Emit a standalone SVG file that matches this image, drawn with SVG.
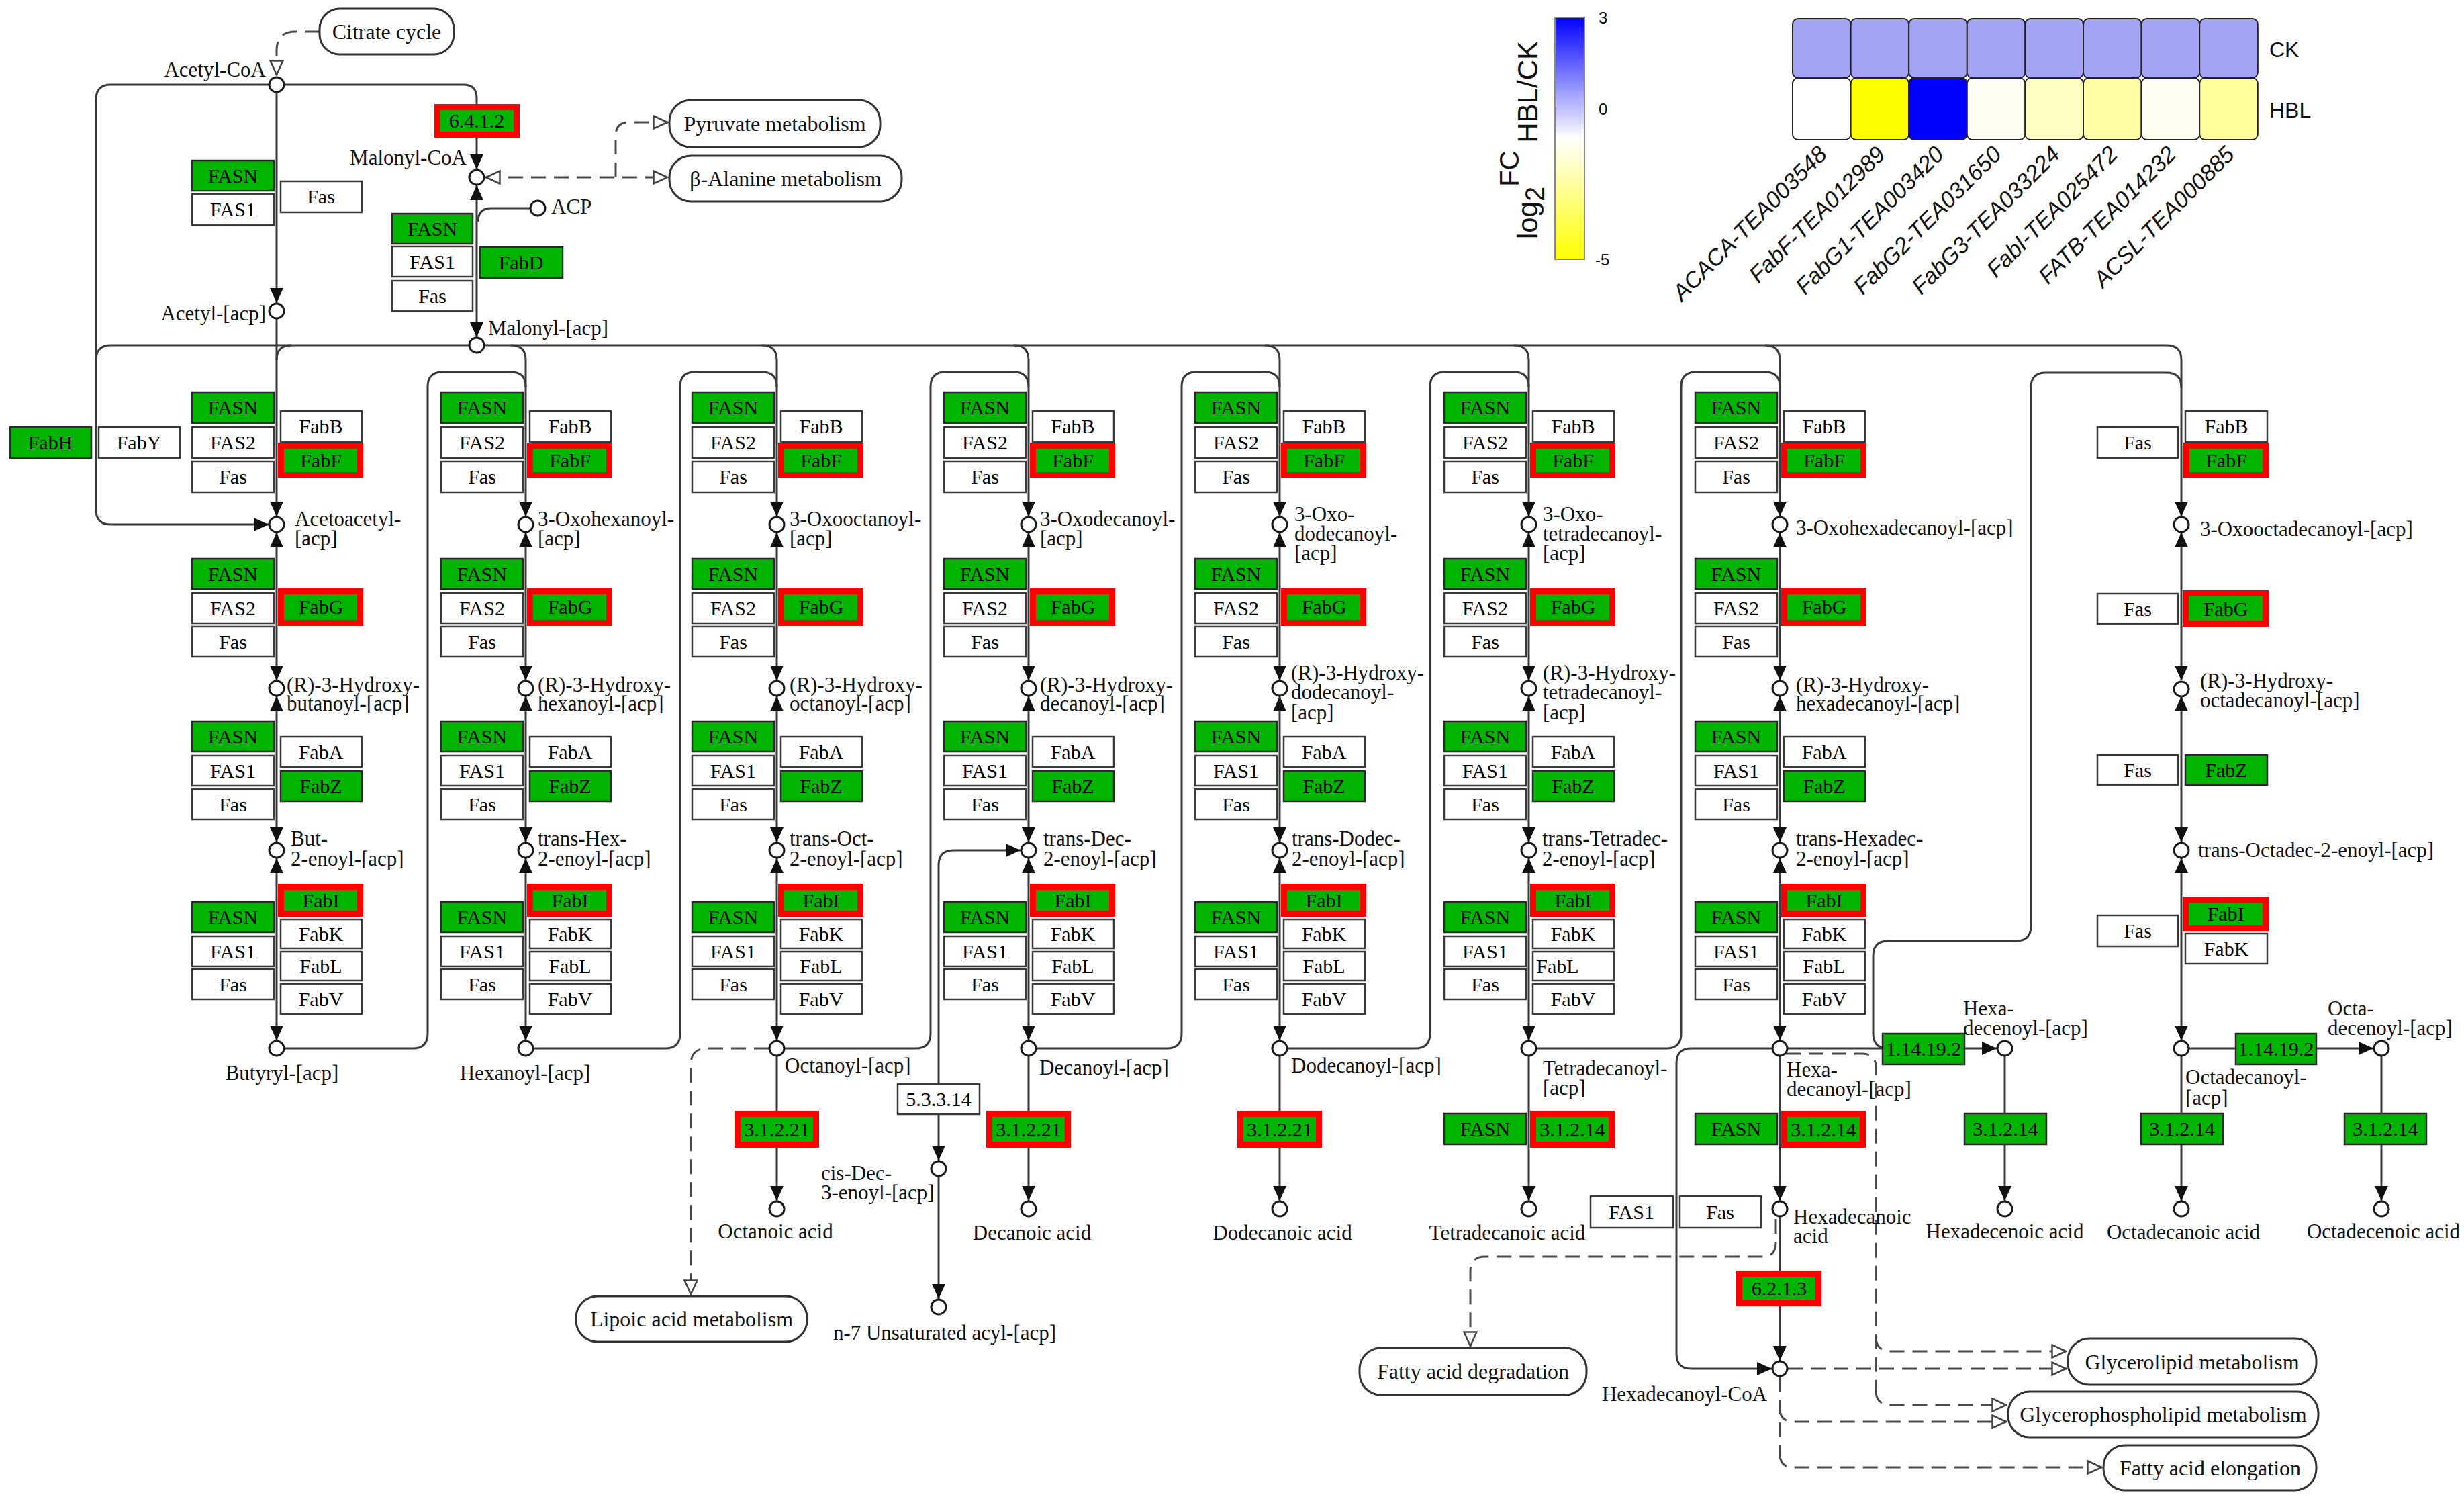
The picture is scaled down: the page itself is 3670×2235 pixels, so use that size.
<svg xmlns="http://www.w3.org/2000/svg" width="3670" height="2235" viewBox="0 0 3670 2235">
<defs>
<style>
.w{fill:#fff;stroke:#3a3a3a;stroke-width:2.5}
.g{fill:#00b400;stroke:#2a2a2a;stroke-width:2.5}
.r{fill:#00b400;stroke:#ff0000;stroke-width:9}
.t{font-family:"Liberation Serif",serif;font-size:30px;text-anchor:middle;fill:#000}
.l{font-family:"Liberation Serif",serif;font-size:31px;fill:#111}
.lm{font-family:"Liberation Serif",serif;font-size:31px;fill:#111;text-anchor:middle}
.le{font-family:"Liberation Serif",serif;font-size:31px;fill:#111;text-anchor:end}
.m{fill:#fff;stroke:#333;stroke-width:3}
.mt{font-family:"Liberation Serif",serif;font-size:32px;text-anchor:middle;fill:#111}
.n{fill:#fff;stroke:#1a1a1a;stroke-width:3}
.s{fill:none;stroke:#3a3a3a;stroke-width:3}
.sa{fill:none;stroke:#3a3a3a;stroke-width:3;marker-end:url(#ah)}
.sb{fill:none;stroke:#3a3a3a;stroke-width:3;marker-start:url(#ah);marker-end:url(#ah)}
.d{fill:none;stroke:#4a4a4a;stroke-width:3;stroke-dasharray:22 12}
.da{fill:none;stroke:#4a4a4a;stroke-width:3;stroke-dasharray:22 12;marker-end:url(#oh)}
.hm{stroke:#222;stroke-width:2}
.sans{font-family:"Liberation Sans",Arial,sans-serif;fill:#111}
.gl{font-family:"Liberation Sans",Arial,sans-serif;font-size:34px;font-style:italic;text-anchor:end;fill:#111}
</style>
<marker id="ah" viewBox="0 0 22 20" refX="22" refY="10" markerWidth="22" markerHeight="20" markerUnits="userSpaceOnUse" orient="auto-start-reverse"><path d="M0,0 L22,10 L0,20 z" fill="#111"/></marker>
<marker id="oh" viewBox="0 0 24 22" refX="23" refY="11" markerWidth="24" markerHeight="22" markerUnits="userSpaceOnUse" orient="auto-start-reverse"><path d="M1.5,1.5 L22,11 L1.5,20.5 z" fill="#fff" stroke="#444" stroke-width="2.5"/></marker>
<linearGradient id="cbar" x1="0" y1="0" x2="0" y2="1"><stop offset="0" stop-color="#0000ff"/><stop offset="0.5" stop-color="#ffffff"/><stop offset="1" stop-color="#ffff00"/></linearGradient>
</defs>
<rect x="0" y="0" width="3670" height="2235" fill="#fff"/>

<!-- Legend -->
<g id="legend">
<rect x="2316" y="26" width="44" height="360" fill="url(#cbar)" stroke="#888" stroke-width="2"/>
<text class="sans" font-size="24" x="2381" y="35">3</text>
<text class="sans" font-size="24" x="2381" y="171">0</text>
<text class="sans" font-size="24" x="2376" y="395">-5</text>
<text class="sans" font-size="42" fill="#1a1a60" transform="translate(2290,356) rotate(-90)">log<tspan dy="10" font-size="40">2</tspan><tspan dy="-38" font-size="40">FC</tspan><tspan dy="28"> HBL/CK</tspan></text>
</g>
<g id="heatmap">
<rect class="hm" x="2670" y="28" width="86.6" height="88" rx="8" fill="#a4a4f7"/>
<rect class="hm" x="2756.6" y="28" width="86.6" height="88" rx="8" fill="#a4a4f7"/>
<rect class="hm" x="2843.2" y="28" width="86.6" height="88" rx="8" fill="#a4a4f7"/>
<rect class="hm" x="2929.8" y="28" width="86.6" height="88" rx="8" fill="#a4a4f7"/>
<rect class="hm" x="3016.4" y="28" width="86.6" height="88" rx="8" fill="#a4a4f7"/>
<rect class="hm" x="3103" y="28" width="86.6" height="88" rx="8" fill="#a4a4f7"/>
<rect class="hm" x="3189.6" y="28" width="86.6" height="88" rx="8" fill="#a4a4f7"/>
<rect class="hm" x="3276.2" y="28" width="86.6" height="88" rx="8" fill="#a4a4f7"/>
<rect class="hm" x="2670" y="116" width="86.6" height="92" rx="8" fill="#ffffff"/>
<rect class="hm" x="2756.6" y="116" width="86.6" height="92" rx="8" fill="#ffff00"/>
<rect class="hm" x="2843.2" y="116" width="86.6" height="92" rx="8" fill="#0000ff"/>
<rect class="hm" x="2929.8" y="116" width="86.6" height="92" rx="8" fill="#fffff2"/>
<rect class="hm" x="3016.4" y="116" width="86.6" height="92" rx="8" fill="#ffffc4"/>
<rect class="hm" x="3103" y="116" width="86.6" height="92" rx="8" fill="#ffffa6"/>
<rect class="hm" x="3189.6" y="116" width="86.6" height="92" rx="8" fill="#fffff0"/>
<rect class="hm" x="3276.2" y="116" width="86.6" height="92" rx="8" fill="#ffff9c"/>
<text class="sans" font-size="32" x="3380" y="85">CK</text>
<text class="sans" font-size="32" x="3380" y="175">HBL</text>
<text class="gl" transform="translate(2723,232) rotate(-45)">ACACA-TEA003548</text>
<text class="gl" transform="translate(2810,232) rotate(-45)">FabF-TEA012989</text>
<text class="gl" transform="translate(2897,232) rotate(-45)">FabG1-TEA003420</text>
<text class="gl" transform="translate(2983,232) rotate(-45)">FabG2-TEA031650</text>
<text class="gl" transform="translate(3070,232) rotate(-45)">FabG3-TEA033224</text>
<text class="gl" transform="translate(3156,232) rotate(-45)">FabI-TEA025472</text>
<text class="gl" transform="translate(3243,232) rotate(-45)">FATB-TEA014232</text>
<text class="gl" transform="translate(3330,232) rotate(-45)">ACSL-TEA000885</text>
</g>

<!-- Connectors -->
<g id="connectors">
<path class="da" d="M476 47 H440 Q412 47 412 75 V112"/>
<path class="s" d="M423 126 H690 Q710 126 710 146 V156"/>
<path class="sa" d="M401 126 H165 Q143 126 143 148 V759 Q143 781 165 781 H400"/>
<path class="sa" d="M412 137 V451"/>
<path class="sa" d="M412 475 V769"/>
<path class="sa" d="M710 204 V252"/>
<path class="sb" d="M710 276 V502"/>
<path class="s" d="M790 310 H732 Q712 310 712 330"/>
<path class="d" d="M723 264 H995" marker-start="url(#oh)" marker-end="url(#oh)"/>
<path class="da" d="M917 264 V202 Q917 182 937 182 H995"/>
<path class="s" d="M699 514 H165 Q143 514 143 536"/>
<path class="s" d="M721 514 H3227 Q3249 514 3249 536"/>
<path class="s" d="M434 514 Q412 514 412 536"/>
<path class="s" d="M761 514 Q783 514 783 536"/>
<path class="s" d="M1135 514 Q1157 514 1157 536"/>
<path class="s" d="M1510 514 Q1532 514 1532 536"/>
<path class="s" d="M1884 514 Q1906 514 1906 536"/>
<path class="s" d="M2255 514 Q2277 514 2277 536"/>
<path class="s" d="M2629 514 Q2651 514 2651 536"/>
<path class="s" d="M423 1561 H615 Q637 1561 637 1539 V576 Q637 554 659 554 H761 Q783 554 783 576"/>
<path class="s" d="M794 1561 H991 Q1013 1561 1013 1539 V576 Q1013 554 1035 554 H1135 Q1157 554 1157 576"/>
<path class="s" d="M1168 1561 H1364 Q1386 1561 1386 1539 V576 Q1386 554 1408 554 H1510 Q1532 554 1532 576"/>
<path class="s" d="M1543 1561 H1738 Q1760 1561 1760 1539 V576 Q1760 554 1782 554 H1884 Q1906 554 1906 576"/>
<path class="s" d="M1917 1561 H2108 Q2130 1561 2130 1539 V576 Q2130 554 2152 554 H2255 Q2277 554 2277 576"/>
<path class="s" d="M2288 1561 H2482 Q2504 1561 2504 1539 V576 Q2504 554 2526 554 H2629 Q2651 554 2651 576"/>
<path class="s" d="M2812 1561 Q2790 1561 2790 1539 V1423 Q2790 1401 2812 1401 H3003 Q3025 1401 3025 1379 V577 Q3025 555 3047 555 H3227 Q3249 555 3249 577"/>
<path class="sa" d="M783 536 V769"/>
<path class="sa" d="M1157 536 V769"/>
<path class="sa" d="M1532 536 V769"/>
<path class="sa" d="M1906 536 V769"/>
<path class="sa" d="M2277 536 V769"/>
<path class="sa" d="M2651 536 V769"/>
<path class="sa" d="M3249 536 V769"/>
<path class="sb" d="M412 793 V1013"/><path class="sb" d="M412 1037 V1254"/><path class="sb" d="M412 1278 V1549"/>
<path class="sb" d="M783 793 V1013"/><path class="sb" d="M783 1037 V1254"/><path class="sb" d="M783 1278 V1549"/>
<path class="sb" d="M1157 793 V1013"/><path class="sb" d="M1157 1037 V1254"/><path class="sb" d="M1157 1278 V1549"/>
<path class="sb" d="M1532 793 V1013"/><path class="sb" d="M1532 1037 V1254"/><path class="sb" d="M1532 1278 V1549"/>
<path class="sb" d="M1906 793 V1013"/><path class="sb" d="M1906 1037 V1254"/><path class="sb" d="M1906 1278 V1549"/>
<path class="sb" d="M2277 793 V1013"/><path class="sb" d="M2277 1037 V1254"/><path class="sb" d="M2277 1278 V1549"/>
<path class="sb" d="M2651 793 V1013"/><path class="sb" d="M2651 1037 V1254"/><path class="sb" d="M2651 1278 V1549"/>
<path class="sb" d="M3249 793 V1013"/><path class="sb" d="M3249 1037 V1254"/><path class="sb" d="M3249 1278 V1549"/>
<path class="sa" d="M1157 1572 V1788"/>
<path class="sa" d="M1532 1572 V1788"/>
<path class="sa" d="M1906 1572 V1788"/>
<path class="sa" d="M2277 1572 V1788"/>
<path class="sa" d="M2651 1572 V1788"/>
<path class="sa" d="M2651 1812 V2026"/>
<path class="sa" d="M1398 1614 V1288 Q1398 1266 1420 1266 H1520"/>
<path class="sa" d="M1398 1659 V1728"/>
<path class="sa" d="M1398 1752 V1934"/>
<path class="da" d="M1145 1561 H1053 Q1029 1561 1029 1585 V1928"/>
<path class="sa" d="M2640 1561 H2519 Q2497 1561 2497 1583 V2016 Q2497 2038 2519 2038 H2639"/>
<path class="s" d="M2662 1561 H2804"/>
<path class="sa" d="M2926 1561 H2974"/>
<path class="sa" d="M2986 1572 V1788"/>
<path class="s" d="M3260 1561 H3330"/>
<path class="sa" d="M3450 1561 H3535"/>
<path class="sa" d="M3249 1572 V1788"/>
<path class="sa" d="M3547 1572 V1788"/>
<path class="da" d="M2645 1815 V1851 Q2645 1871 2625 1871 H2212 Q2190 1871 2190 1893 V2005"/>
<path class="d" d="M2660 1569 H2774 Q2794 1569 2794 1589 V2072"/>
<path class="da" d="M2794 1990 Q2794 2012 2816 2012 H3078"/>
<path class="da" d="M2794 2070 Q2794 2092 2816 2092 H2989"/>
<path class="da" d="M2663 2038 H3078"/>
<path class="d" d="M2651 2050 V2165"/>
<path class="da" d="M2651 2097 Q2651 2117 2671 2117 H2989"/>
<path class="da" d="M2651 2165 Q2651 2185 2671 2185 H3131"/>
</g>

<!-- Map (pathway) boxes -->
<g id="map-citrate"><rect class="m" x="476" y="13" width="200" height="68" rx="30"/><text class="mt" x="576" y="58">Citrate cycle</text></g>
<g id="map-pyruvate"><rect class="m" x="997" y="149" width="314" height="70" rx="32"/><text class="mt" x="1154" y="195">Pyruvate metabolism</text></g>
<g id="map-balanine"><rect class="m" x="997" y="232" width="346" height="68" rx="32"/><text class="mt" x="1170" y="277">β-Alanine metabolism</text></g>
<g id="map-lipoic"><rect class="m" x="858" y="1930" width="344" height="68" rx="32"/><text class="mt" x="1030" y="1975">Lipoic acid metabolism</text></g>
<g id="map-degradation"><rect class="m" x="2025" y="2007" width="338" height="70" rx="32"/><text class="mt" x="2194" y="2053">Fatty acid degradation</text></g>
<g id="map-glycerolipid"><rect class="m" x="3080" y="1993" width="370" height="69" rx="32"/><text class="mt" x="3265" y="2039">Glycerolipid metabolism</text></g>
<g id="map-glycerophospholipid"><rect class="m" x="2991" y="2072" width="462" height="68" rx="32"/><text class="mt" x="3222" y="2117">Glycerophospholipid metabolism</text></g>
<g id="map-elongation"><rect class="m" x="3133" y="2152" width="317" height="67" rx="32"/><text class="mt" x="3292" y="2197">Fatty acid elongation</text></g>

<!-- Top enzymes -->
<g id="e-6412"><rect class="r" x="651.5" y="159.5" width="118" height="41"/><text class="t" x="710" y="190">6.4.1.2</text></g>
<g id="e-top-FASN1"><rect class="g" x="286" y="239" width="122" height="45"/><text class="t" x="347" y="272">FASN</text></g>
<g id="e-top-FAS1a"><rect class="w" x="286" y="289" width="122" height="46"/><text class="t" x="347" y="322">FAS1</text></g>
<g id="e-top-Fas1"><rect class="w" x="418" y="270" width="121" height="46"/><text class="t" x="478" y="303">Fas</text></g>
<g id="e-top-FASN2"><rect class="g" x="584" y="318" width="120" height="45"/><text class="t" x="644" y="351">FASN</text></g>
<g id="e-top-FAS1b"><rect class="w" x="584" y="367" width="120" height="45"/><text class="t" x="644" y="400">FAS1</text></g>
<g id="e-top-Fas2"><rect class="w" x="584" y="418" width="120" height="45"/><text class="t" x="644" y="451">Fas</text></g>
<g id="e-FabD"><rect class="g" x="715" y="368" width="123" height="46"/><text class="t" x="776" y="401">FabD</text></g>
<g id="e-FabH"><rect class="g" x="15" y="636" width="121" height="46"/><text class="t" x="75" y="669">FabH</text></g>
<g id="e-FabY"><rect class="w" x="147" y="636" width="121" height="46"/><text class="t" x="207" y="669">FabY</text></g>

<!-- Column 0 enzymes -->
<g id="c0-enz">
<g id="c0-FASN-a"><rect class="g" x="286" y="584" width="122" height="46"/><text class="t" x="347" y="617">FASN</text></g>
<g id="c0-FAS2-a"><rect class="w" x="286" y="636" width="122" height="46"/><text class="t" x="347" y="669">FAS2</text></g>
<g id="c0-Fas-a"><rect class="w" x="286" y="687" width="122" height="46"/><text class="t" x="347" y="720">Fas</text></g>
<g id="c0-FabB"><rect class="w" x="418" y="612" width="121" height="46"/><text class="t" x="478" y="645">FabB</text></g>
<g id="c0-FabF"><rect class="r" x="418.5" y="663.5" width="118" height="44"/><text class="t" x="478" y="696">FabF</text></g>
<g id="c0-FASN-b"><rect class="g" x="286" y="832" width="122" height="45"/><text class="t" x="347" y="865">FASN</text></g>
<g id="c0-FAS2-b"><rect class="w" x="286" y="883" width="122" height="45"/><text class="t" x="347" y="916">FAS2</text></g>
<g id="c0-Fas-b"><rect class="w" x="286" y="933" width="122" height="45"/><text class="t" x="347" y="966">Fas</text></g>
<g id="c0-FabG"><rect class="r" x="418.5" y="880.5" width="118" height="47"/><text class="t" x="478" y="914">FabG</text></g>
<g id="c0-FASN-c"><rect class="g" x="286" y="1074" width="122" height="45"/><text class="t" x="347" y="1107">FASN</text></g>
<g id="c0-FAS1-c"><rect class="w" x="286" y="1125" width="122" height="45"/><text class="t" x="347" y="1158">FAS1</text></g>
<g id="c0-Fas-c"><rect class="w" x="286" y="1175" width="122" height="45"/><text class="t" x="347" y="1208">Fas</text></g>
<g id="c0-FabA"><rect class="w" x="418" y="1097" width="121" height="45"/><text class="t" x="478" y="1130">FabA</text></g>
<g id="c0-FabZ"><rect class="g" x="418" y="1148" width="121" height="45"/><text class="t" x="478" y="1181">FabZ</text></g>
<g id="c0-FASN-d"><rect class="g" x="286" y="1343" width="122" height="45"/><text class="t" x="347" y="1376">FASN</text></g>
<g id="c0-FAS1-d"><rect class="w" x="286" y="1394" width="122" height="45"/><text class="t" x="347" y="1427">FAS1</text></g>
<g id="c0-Fas-d"><rect class="w" x="286" y="1443" width="122" height="45"/><text class="t" x="347" y="1476">Fas</text></g>
<g id="c0-FabI"><rect class="r" x="418.5" y="1320.5" width="118" height="40"/><text class="t" x="478" y="1351">FabI</text></g>
<g id="c0-FabK"><rect class="w" x="418" y="1369" width="121" height="43"/><text class="t" x="478" y="1401">FabK</text></g>
<g id="c0-FabL"><rect class="w" x="418" y="1417" width="121" height="43"/><text class="t" x="478" y="1449">FabL</text></g>
<g id="c0-FabV"><rect class="w" x="418" y="1465" width="121" height="45"/><text class="t" x="478" y="1498">FabV</text></g>
</g>

<!-- Column 1 enzymes -->
<g id="c1-enz">
<g id="c1-FASN-a"><rect class="g" x="657" y="584" width="122" height="46"/><text class="t" x="718" y="617">FASN</text></g>
<g id="c1-FAS2-a"><rect class="w" x="657" y="636" width="122" height="46"/><text class="t" x="718" y="669">FAS2</text></g>
<g id="c1-Fas-a"><rect class="w" x="657" y="687" width="122" height="46"/><text class="t" x="718" y="720">Fas</text></g>
<g id="c1-FabB"><rect class="w" x="789" y="612" width="121" height="46"/><text class="t" x="849" y="645">FabB</text></g>
<g id="c1-FabF"><rect class="r" x="789.5" y="663.5" width="118" height="44"/><text class="t" x="849" y="696">FabF</text></g>
<g id="c1-FASN-b"><rect class="g" x="657" y="832" width="122" height="45"/><text class="t" x="718" y="865">FASN</text></g>
<g id="c1-FAS2-b"><rect class="w" x="657" y="883" width="122" height="45"/><text class="t" x="718" y="916">FAS2</text></g>
<g id="c1-Fas-b"><rect class="w" x="657" y="933" width="122" height="45"/><text class="t" x="718" y="966">Fas</text></g>
<g id="c1-FabG"><rect class="r" x="789.5" y="880.5" width="118" height="47"/><text class="t" x="849" y="914">FabG</text></g>
<g id="c1-FASN-c"><rect class="g" x="657" y="1074" width="122" height="45"/><text class="t" x="718" y="1107">FASN</text></g>
<g id="c1-FAS1-c"><rect class="w" x="657" y="1125" width="122" height="45"/><text class="t" x="718" y="1158">FAS1</text></g>
<g id="c1-Fas-c"><rect class="w" x="657" y="1175" width="122" height="45"/><text class="t" x="718" y="1208">Fas</text></g>
<g id="c1-FabA"><rect class="w" x="789" y="1097" width="121" height="45"/><text class="t" x="849" y="1130">FabA</text></g>
<g id="c1-FabZ"><rect class="g" x="789" y="1148" width="121" height="45"/><text class="t" x="849" y="1181">FabZ</text></g>
<g id="c1-FASN-d"><rect class="g" x="657" y="1343" width="122" height="45"/><text class="t" x="718" y="1376">FASN</text></g>
<g id="c1-FAS1-d"><rect class="w" x="657" y="1394" width="122" height="45"/><text class="t" x="718" y="1427">FAS1</text></g>
<g id="c1-Fas-d"><rect class="w" x="657" y="1443" width="122" height="45"/><text class="t" x="718" y="1476">Fas</text></g>
<g id="c1-FabI"><rect class="r" x="789.5" y="1320.5" width="118" height="40"/><text class="t" x="849" y="1351">FabI</text></g>
<g id="c1-FabK"><rect class="w" x="789" y="1369" width="121" height="43"/><text class="t" x="849" y="1401">FabK</text></g>
<g id="c1-FabL"><rect class="w" x="789" y="1417" width="121" height="43"/><text class="t" x="849" y="1449">FabL</text></g>
<g id="c1-FabV"><rect class="w" x="789" y="1465" width="121" height="45"/><text class="t" x="849" y="1498">FabV</text></g>
</g>

<!-- Column 2 enzymes -->
<g id="c2-enz">
<g id="c2-FASN-a"><rect class="g" x="1031" y="584" width="122" height="46"/><text class="t" x="1092" y="617">FASN</text></g>
<g id="c2-FAS2-a"><rect class="w" x="1031" y="636" width="122" height="46"/><text class="t" x="1092" y="669">FAS2</text></g>
<g id="c2-Fas-a"><rect class="w" x="1031" y="687" width="122" height="46"/><text class="t" x="1092" y="720">Fas</text></g>
<g id="c2-FabB"><rect class="w" x="1163" y="612" width="121" height="46"/><text class="t" x="1223" y="645">FabB</text></g>
<g id="c2-FabF"><rect class="r" x="1163.5" y="663.5" width="118" height="44"/><text class="t" x="1223" y="696">FabF</text></g>
<g id="c2-FASN-b"><rect class="g" x="1031" y="832" width="122" height="45"/><text class="t" x="1092" y="865">FASN</text></g>
<g id="c2-FAS2-b"><rect class="w" x="1031" y="883" width="122" height="45"/><text class="t" x="1092" y="916">FAS2</text></g>
<g id="c2-Fas-b"><rect class="w" x="1031" y="933" width="122" height="45"/><text class="t" x="1092" y="966">Fas</text></g>
<g id="c2-FabG"><rect class="r" x="1163.5" y="880.5" width="118" height="47"/><text class="t" x="1223" y="914">FabG</text></g>
<g id="c2-FASN-c"><rect class="g" x="1031" y="1074" width="122" height="45"/><text class="t" x="1092" y="1107">FASN</text></g>
<g id="c2-FAS1-c"><rect class="w" x="1031" y="1125" width="122" height="45"/><text class="t" x="1092" y="1158">FAS1</text></g>
<g id="c2-Fas-c"><rect class="w" x="1031" y="1175" width="122" height="45"/><text class="t" x="1092" y="1208">Fas</text></g>
<g id="c2-FabA"><rect class="w" x="1163" y="1097" width="121" height="45"/><text class="t" x="1223" y="1130">FabA</text></g>
<g id="c2-FabZ"><rect class="g" x="1163" y="1148" width="121" height="45"/><text class="t" x="1223" y="1181">FabZ</text></g>
<g id="c2-FASN-d"><rect class="g" x="1031" y="1343" width="122" height="45"/><text class="t" x="1092" y="1376">FASN</text></g>
<g id="c2-FAS1-d"><rect class="w" x="1031" y="1394" width="122" height="45"/><text class="t" x="1092" y="1427">FAS1</text></g>
<g id="c2-Fas-d"><rect class="w" x="1031" y="1443" width="122" height="45"/><text class="t" x="1092" y="1476">Fas</text></g>
<g id="c2-FabI"><rect class="r" x="1163.5" y="1320.5" width="118" height="40"/><text class="t" x="1223" y="1351">FabI</text></g>
<g id="c2-FabK"><rect class="w" x="1163" y="1369" width="121" height="43"/><text class="t" x="1223" y="1401">FabK</text></g>
<g id="c2-FabL"><rect class="w" x="1163" y="1417" width="121" height="43"/><text class="t" x="1223" y="1449">FabL</text></g>
<g id="c2-FabV"><rect class="w" x="1163" y="1465" width="121" height="45"/><text class="t" x="1223" y="1498">FabV</text></g>
</g>

<!-- Column 3 enzymes -->
<g id="c3-enz">
<g id="c3-FASN-a"><rect class="g" x="1406" y="584" width="122" height="46"/><text class="t" x="1467" y="617">FASN</text></g>
<g id="c3-FAS2-a"><rect class="w" x="1406" y="636" width="122" height="46"/><text class="t" x="1467" y="669">FAS2</text></g>
<g id="c3-Fas-a"><rect class="w" x="1406" y="687" width="122" height="46"/><text class="t" x="1467" y="720">Fas</text></g>
<g id="c3-FabB"><rect class="w" x="1538" y="612" width="121" height="46"/><text class="t" x="1598" y="645">FabB</text></g>
<g id="c3-FabF"><rect class="r" x="1538.5" y="663.5" width="118" height="44"/><text class="t" x="1598" y="696">FabF</text></g>
<g id="c3-FASN-b"><rect class="g" x="1406" y="832" width="122" height="45"/><text class="t" x="1467" y="865">FASN</text></g>
<g id="c3-FAS2-b"><rect class="w" x="1406" y="883" width="122" height="45"/><text class="t" x="1467" y="916">FAS2</text></g>
<g id="c3-Fas-b"><rect class="w" x="1406" y="933" width="122" height="45"/><text class="t" x="1467" y="966">Fas</text></g>
<g id="c3-FabG"><rect class="r" x="1538.5" y="880.5" width="118" height="47"/><text class="t" x="1598" y="914">FabG</text></g>
<g id="c3-FASN-c"><rect class="g" x="1406" y="1074" width="122" height="45"/><text class="t" x="1467" y="1107">FASN</text></g>
<g id="c3-FAS1-c"><rect class="w" x="1406" y="1125" width="122" height="45"/><text class="t" x="1467" y="1158">FAS1</text></g>
<g id="c3-Fas-c"><rect class="w" x="1406" y="1175" width="122" height="45"/><text class="t" x="1467" y="1208">Fas</text></g>
<g id="c3-FabA"><rect class="w" x="1538" y="1097" width="121" height="45"/><text class="t" x="1598" y="1130">FabA</text></g>
<g id="c3-FabZ"><rect class="g" x="1538" y="1148" width="121" height="45"/><text class="t" x="1598" y="1181">FabZ</text></g>
<g id="c3-FASN-d"><rect class="g" x="1406" y="1343" width="122" height="45"/><text class="t" x="1467" y="1376">FASN</text></g>
<g id="c3-FAS1-d"><rect class="w" x="1406" y="1394" width="122" height="45"/><text class="t" x="1467" y="1427">FAS1</text></g>
<g id="c3-Fas-d"><rect class="w" x="1406" y="1443" width="122" height="45"/><text class="t" x="1467" y="1476">Fas</text></g>
<g id="c3-FabI"><rect class="r" x="1538.5" y="1320.5" width="118" height="40"/><text class="t" x="1598" y="1351">FabI</text></g>
<g id="c3-FabK"><rect class="w" x="1538" y="1369" width="121" height="43"/><text class="t" x="1598" y="1401">FabK</text></g>
<g id="c3-FabL"><rect class="w" x="1538" y="1417" width="121" height="43"/><text class="t" x="1598" y="1449">FabL</text></g>
<g id="c3-FabV"><rect class="w" x="1538" y="1465" width="121" height="45"/><text class="t" x="1598" y="1498">FabV</text></g>
</g>

<!-- Column 4 enzymes -->
<g id="c4-enz">
<g id="c4-FASN-a"><rect class="g" x="1780" y="584" width="122" height="46"/><text class="t" x="1841" y="617">FASN</text></g>
<g id="c4-FAS2-a"><rect class="w" x="1780" y="636" width="122" height="46"/><text class="t" x="1841" y="669">FAS2</text></g>
<g id="c4-Fas-a"><rect class="w" x="1780" y="687" width="122" height="46"/><text class="t" x="1841" y="720">Fas</text></g>
<g id="c4-FabB"><rect class="w" x="1912" y="612" width="121" height="46"/><text class="t" x="1972" y="645">FabB</text></g>
<g id="c4-FabF"><rect class="r" x="1912.5" y="663.5" width="118" height="44"/><text class="t" x="1972" y="696">FabF</text></g>
<g id="c4-FASN-b"><rect class="g" x="1780" y="832" width="122" height="45"/><text class="t" x="1841" y="865">FASN</text></g>
<g id="c4-FAS2-b"><rect class="w" x="1780" y="883" width="122" height="45"/><text class="t" x="1841" y="916">FAS2</text></g>
<g id="c4-Fas-b"><rect class="w" x="1780" y="933" width="122" height="45"/><text class="t" x="1841" y="966">Fas</text></g>
<g id="c4-FabG"><rect class="r" x="1912.5" y="880.5" width="118" height="47"/><text class="t" x="1972" y="914">FabG</text></g>
<g id="c4-FASN-c"><rect class="g" x="1780" y="1074" width="122" height="45"/><text class="t" x="1841" y="1107">FASN</text></g>
<g id="c4-FAS1-c"><rect class="w" x="1780" y="1125" width="122" height="45"/><text class="t" x="1841" y="1158">FAS1</text></g>
<g id="c4-Fas-c"><rect class="w" x="1780" y="1175" width="122" height="45"/><text class="t" x="1841" y="1208">Fas</text></g>
<g id="c4-FabA"><rect class="w" x="1912" y="1097" width="121" height="45"/><text class="t" x="1972" y="1130">FabA</text></g>
<g id="c4-FabZ"><rect class="g" x="1912" y="1148" width="121" height="45"/><text class="t" x="1972" y="1181">FabZ</text></g>
<g id="c4-FASN-d"><rect class="g" x="1780" y="1343" width="122" height="45"/><text class="t" x="1841" y="1376">FASN</text></g>
<g id="c4-FAS1-d"><rect class="w" x="1780" y="1394" width="122" height="45"/><text class="t" x="1841" y="1427">FAS1</text></g>
<g id="c4-Fas-d"><rect class="w" x="1780" y="1443" width="122" height="45"/><text class="t" x="1841" y="1476">Fas</text></g>
<g id="c4-FabI"><rect class="r" x="1912.5" y="1320.5" width="118" height="40"/><text class="t" x="1972" y="1351">FabI</text></g>
<g id="c4-FabK"><rect class="w" x="1912" y="1369" width="121" height="43"/><text class="t" x="1972" y="1401">FabK</text></g>
<g id="c4-FabL"><rect class="w" x="1912" y="1417" width="121" height="43"/><text class="t" x="1972" y="1449">FabL</text></g>
<g id="c4-FabV"><rect class="w" x="1912" y="1465" width="121" height="45"/><text class="t" x="1972" y="1498">FabV</text></g>
</g>

<!-- Column 5 enzymes -->
<g id="c5-enz">
<g id="c5-FASN-a"><rect class="g" x="2151" y="584" width="122" height="46"/><text class="t" x="2212" y="617">FASN</text></g>
<g id="c5-FAS2-a"><rect class="w" x="2151" y="636" width="122" height="46"/><text class="t" x="2212" y="669">FAS2</text></g>
<g id="c5-Fas-a"><rect class="w" x="2151" y="687" width="122" height="46"/><text class="t" x="2212" y="720">Fas</text></g>
<g id="c5-FabB"><rect class="w" x="2283" y="612" width="121" height="46"/><text class="t" x="2343" y="645">FabB</text></g>
<g id="c5-FabF"><rect class="r" x="2283.5" y="663.5" width="118" height="44"/><text class="t" x="2343" y="696">FabF</text></g>
<g id="c5-FASN-b"><rect class="g" x="2151" y="832" width="122" height="45"/><text class="t" x="2212" y="865">FASN</text></g>
<g id="c5-FAS2-b"><rect class="w" x="2151" y="883" width="122" height="45"/><text class="t" x="2212" y="916">FAS2</text></g>
<g id="c5-Fas-b"><rect class="w" x="2151" y="933" width="122" height="45"/><text class="t" x="2212" y="966">Fas</text></g>
<g id="c5-FabG"><rect class="r" x="2283.5" y="880.5" width="118" height="47"/><text class="t" x="2343" y="914">FabG</text></g>
<g id="c5-FASN-c"><rect class="g" x="2151" y="1074" width="122" height="45"/><text class="t" x="2212" y="1107">FASN</text></g>
<g id="c5-FAS1-c"><rect class="w" x="2151" y="1125" width="122" height="45"/><text class="t" x="2212" y="1158">FAS1</text></g>
<g id="c5-Fas-c"><rect class="w" x="2151" y="1175" width="122" height="45"/><text class="t" x="2212" y="1208">Fas</text></g>
<g id="c5-FabA"><rect class="w" x="2283" y="1097" width="121" height="45"/><text class="t" x="2343" y="1130">FabA</text></g>
<g id="c5-FabZ"><rect class="g" x="2283" y="1148" width="121" height="45"/><text class="t" x="2343" y="1181">FabZ</text></g>
<g id="c5-FASN-d"><rect class="g" x="2151" y="1343" width="122" height="45"/><text class="t" x="2212" y="1376">FASN</text></g>
<g id="c5-FAS1-d"><rect class="w" x="2151" y="1394" width="122" height="45"/><text class="t" x="2212" y="1427">FAS1</text></g>
<g id="c5-Fas-d"><rect class="w" x="2151" y="1443" width="122" height="45"/><text class="t" x="2212" y="1476">Fas</text></g>
<g id="c5-FabI"><rect class="r" x="2283.5" y="1320.5" width="118" height="40"/><text class="t" x="2343" y="1351">FabI</text></g>
<g id="c5-FabK"><rect class="w" x="2283" y="1369" width="121" height="43"/><text class="t" x="2343" y="1401">FabK</text></g>
<g id="c5-FabL"><rect class="w" x="2283" y="1417" width="121" height="43"/><text class="t" x="2320" y="1449">FabL</text></g>
<g id="c5-FabV"><rect class="w" x="2283" y="1465" width="121" height="45"/><text class="t" x="2343" y="1498">FabV</text></g>
</g>

<!-- Column 6 enzymes -->
<g id="c6-enz">
<g id="c6-FASN-a"><rect class="g" x="2525" y="584" width="122" height="46"/><text class="t" x="2586" y="617">FASN</text></g>
<g id="c6-FAS2-a"><rect class="w" x="2525" y="636" width="122" height="46"/><text class="t" x="2586" y="669">FAS2</text></g>
<g id="c6-Fas-a"><rect class="w" x="2525" y="687" width="122" height="46"/><text class="t" x="2586" y="720">Fas</text></g>
<g id="c6-FabB"><rect class="w" x="2657" y="612" width="121" height="46"/><text class="t" x="2717" y="645">FabB</text></g>
<g id="c6-FabF"><rect class="r" x="2657.5" y="663.5" width="118" height="44"/><text class="t" x="2717" y="696">FabF</text></g>
<g id="c6-FASN-b"><rect class="g" x="2525" y="832" width="122" height="45"/><text class="t" x="2586" y="865">FASN</text></g>
<g id="c6-FAS2-b"><rect class="w" x="2525" y="883" width="122" height="45"/><text class="t" x="2586" y="916">FAS2</text></g>
<g id="c6-Fas-b"><rect class="w" x="2525" y="933" width="122" height="45"/><text class="t" x="2586" y="966">Fas</text></g>
<g id="c6-FabG"><rect class="r" x="2657.5" y="880.5" width="118" height="47"/><text class="t" x="2717" y="914">FabG</text></g>
<g id="c6-FASN-c"><rect class="g" x="2525" y="1074" width="122" height="45"/><text class="t" x="2586" y="1107">FASN</text></g>
<g id="c6-FAS1-c"><rect class="w" x="2525" y="1125" width="122" height="45"/><text class="t" x="2586" y="1158">FAS1</text></g>
<g id="c6-Fas-c"><rect class="w" x="2525" y="1175" width="122" height="45"/><text class="t" x="2586" y="1208">Fas</text></g>
<g id="c6-FabA"><rect class="w" x="2657" y="1097" width="121" height="45"/><text class="t" x="2717" y="1130">FabA</text></g>
<g id="c6-FabZ"><rect class="g" x="2657" y="1148" width="121" height="45"/><text class="t" x="2717" y="1181">FabZ</text></g>
<g id="c6-FASN-d"><rect class="g" x="2525" y="1343" width="122" height="45"/><text class="t" x="2586" y="1376">FASN</text></g>
<g id="c6-FAS1-d"><rect class="w" x="2525" y="1394" width="122" height="45"/><text class="t" x="2586" y="1427">FAS1</text></g>
<g id="c6-Fas-d"><rect class="w" x="2525" y="1443" width="122" height="45"/><text class="t" x="2586" y="1476">Fas</text></g>
<g id="c6-FabI"><rect class="r" x="2657.5" y="1320.5" width="118" height="40"/><text class="t" x="2717" y="1351">FabI</text></g>
<g id="c6-FabK"><rect class="w" x="2657" y="1369" width="121" height="43"/><text class="t" x="2717" y="1401">FabK</text></g>
<g id="c6-FabL"><rect class="w" x="2657" y="1417" width="121" height="43"/><text class="t" x="2717" y="1449">FabL</text></g>
<g id="c6-FabV"><rect class="w" x="2657" y="1465" width="121" height="45"/><text class="t" x="2717" y="1498">FabV</text></g>
</g>

<!-- Column 7 enzymes -->
<g id="c7-enz">
<g id="c7-Fas-a"><rect class="w" x="3124" y="636" width="120" height="46"/><text class="t" x="3184" y="669">Fas</text></g>
<g id="c7-FabB"><rect class="w" x="3255" y="612" width="122" height="46"/><text class="t" x="3316" y="645">FabB</text></g>
<g id="c7-FabF"><rect class="r" x="3256.5" y="663.5" width="118" height="44"/><text class="t" x="3316" y="696">FabF</text></g>
<g id="c7-Fas-b"><rect class="w" x="3124" y="884" width="120" height="45"/><text class="t" x="3184" y="917">Fas</text></g>
<g id="c7-FabG"><rect class="r" x="3255.5" y="883.5" width="119" height="45"/><text class="t" x="3315" y="917">FabG</text></g>
<g id="c7-Fas-c"><rect class="w" x="3124" y="1124" width="120" height="45"/><text class="t" x="3184" y="1157">Fas</text></g>
<g id="c7-FabZ"><rect class="g" x="3255" y="1124" width="122" height="45"/><text class="t" x="3316" y="1157">FabZ</text></g>
<g id="c7-Fas-d"><rect class="w" x="3124" y="1363" width="120" height="46"/><text class="t" x="3184" y="1396">Fas</text></g>
<g id="c7-FabI"><rect class="r" x="3255.5" y="1339.5" width="119" height="43"/><text class="t" x="3315" y="1371">FabI</text></g>
<g id="c7-FabK"><rect class="w" x="3255" y="1390" width="122" height="45"/><text class="t" x="3316" y="1423">FabK</text></g>
</g>

<!-- Lower enzymes -->
<g id="e-31221-a"><rect class="r" x="1098.5" y="1658.5" width="117" height="46"/><text class="t" x="1157" y="1692">3.1.2.21</text></g>
<g id="e-31221-b"><rect class="r" x="1473.5" y="1658.5" width="117" height="46"/><text class="t" x="1532" y="1692">3.1.2.21</text></g>
<g id="e-31221-c"><rect class="r" x="1847.5" y="1658.5" width="117" height="46"/><text class="t" x="1906" y="1692">3.1.2.21</text></g>
<g id="e-53314"><rect class="w" x="1337" y="1614" width="122" height="45"/><text class="t" x="1398" y="1647">5.3.3.14</text></g>
<g id="e-FASN-tetra"><rect class="g" x="2151" y="1658" width="122" height="46"/><text class="t" x="2212" y="1691">FASN</text></g>
<g id="e-31214-tetra"><rect class="r" x="2283.5" y="1658.5" width="117" height="46"/><text class="t" x="2342" y="1692">3.1.2.14</text></g>
<g id="e-FASN-hexa"><rect class="g" x="2525" y="1658" width="122" height="46"/><text class="t" x="2586" y="1691">FASN</text></g>
<g id="e-31214-hexa"><rect class="r" x="2657.5" y="1658.5" width="117" height="46"/><text class="t" x="2716" y="1692">3.1.2.14</text></g>
<g id="e-FAS1-low"><rect class="w" x="2369" y="1781" width="123" height="47"/><text class="t" x="2430" y="1815">FAS1</text></g>
<g id="e-Fas-low"><rect class="w" x="2502" y="1781" width="121" height="47"/><text class="t" x="2562" y="1815">Fas</text></g>
<g id="e-6213"><rect class="r" x="2590.5" y="1896.5" width="118" height="44"/><text class="t" x="2650" y="1929">6.2.1.3</text></g>
<g id="e-114192-a"><rect class="g" x="2804" y="1539" width="122" height="46"/><text class="t" x="2865" y="1572" font-size="28">1.14.19.2</text></g>
<g id="e-114192-b"><rect class="g" x="3330" y="1539" width="120" height="46"/><text class="t" x="3390" y="1572" font-size="28">1.14.19.2</text></g>
<g id="e-31214-hexen"><rect class="g" x="2926" y="1658" width="122" height="46"/><text class="t" x="2987" y="1691">3.1.2.14</text></g>
<g id="e-31214-octa"><rect class="g" x="3189" y="1658" width="122" height="46"/><text class="t" x="3250" y="1691">3.1.2.14</text></g>
<g id="e-31214-octen"><rect class="g" x="3492" y="1658" width="122" height="46"/><text class="t" x="3553" y="1691">3.1.2.14</text></g>

<!-- Compounds -->
<g id="n-acetylcoa"><circle class="n" cx="412" cy="126" r="11"/><text class="le" x="396" y="114">Acetyl-CoA</text></g>
<g id="n-malonylcoa"><circle class="n" cx="710" cy="264" r="11"/><text class="le" x="695" y="245">Malonyl-CoA</text></g>
<g id="n-acp"><circle class="n" cx="801" cy="310" r="11"/><text class="l" x="821" y="318">ACP</text></g>
<g id="n-acetylacp"><circle class="n" cx="412" cy="463" r="11"/><text class="le" x="396" y="477">Acetyl-[acp]</text></g>
<g id="n-malonylacp"><circle class="n" cx="710" cy="514" r="11"/><text class="l" x="727" y="499">Malonyl-[acp]</text></g>

<g id="n-c0-oxo"><circle class="n" cx="412" cy="781" r="11"/><text class="l" x="439" y="783">Acetoacetyl-<tspan x="439" y="812">[acp]</tspan></text></g>
<g id="n-c0-hyd"><circle class="n" cx="412" cy="1025" r="11"/><text class="l" x="427" y="1030">(R)-3-Hydroxy-<tspan x="427" y="1058">butanoyl-[acp]</tspan></text></g>
<g id="n-c0-en"><circle class="n" cx="412" cy="1266" r="11"/><text class="l" x="433" y="1259">But-<tspan x="433" y="1289">2-enoyl-[acp]</tspan></text></g>
<g id="n-c0-prod"><circle class="n" cx="412" cy="1561" r="11"/><text class="lm" x="420" y="1608">Butyryl-[acp]</text></g>

<g id="n-c1-oxo"><circle class="n" cx="783" cy="781" r="11"/><text class="l" x="801" y="783">3-Oxohexanoyl-<tspan x="801" y="812">[acp]</tspan></text></g>
<g id="n-c1-hyd"><circle class="n" cx="783" cy="1025" r="11"/><text class="l" x="801" y="1030">(R)-3-Hydroxy-<tspan x="801" y="1058">hexanoyl-[acp]</tspan></text></g>
<g id="n-c1-en"><circle class="n" cx="783" cy="1266" r="11"/><text class="l" x="801" y="1259">trans-Hex-<tspan x="801" y="1289">2-enoyl-[acp]</tspan></text></g>
<g id="n-c1-prod"><circle class="n" cx="783" cy="1561" r="11"/><text class="lm" x="782" y="1608">Hexanoyl-[acp]</text></g>

<g id="n-c2-oxo"><circle class="n" cx="1157" cy="781" r="11"/><text class="l" x="1176" y="783">3-Oxooctanoyl-<tspan x="1176" y="812">[acp]</tspan></text></g>
<g id="n-c2-hyd"><circle class="n" cx="1157" cy="1025" r="11"/><text class="l" x="1176" y="1030">(R)-3-Hydroxy-<tspan x="1176" y="1058">octanoyl-[acp]</tspan></text></g>
<g id="n-c2-en"><circle class="n" cx="1157" cy="1266" r="11"/><text class="l" x="1176" y="1259">trans-Oct-<tspan x="1176" y="1289">2-enoyl-[acp]</tspan></text></g>
<g id="n-c2-prod"><circle class="n" cx="1157" cy="1561" r="11"/><text class="l" x="1169" y="1597">Octanoyl-[acp]</text></g>

<g id="n-c3-oxo"><circle class="n" cx="1532" cy="781" r="11"/><text class="l" x="1549" y="783">3-Oxodecanoyl-<tspan x="1549" y="812">[acp]</tspan></text></g>
<g id="n-c3-hyd"><circle class="n" cx="1532" cy="1025" r="11"/><text class="l" x="1549" y="1030">(R)-3-Hydroxy-<tspan x="1549" y="1058">decanoyl-[acp]</tspan></text></g>
<g id="n-c3-en"><circle class="n" cx="1532" cy="1266" r="11"/><text class="l" x="1554" y="1259">trans-Dec-<tspan x="1554" y="1289">2-enoyl-[acp]</tspan></text></g>
<g id="n-c3-prod"><circle class="n" cx="1532" cy="1561" r="11"/><text class="l" x="1548" y="1600">Decanoyl-[acp]</text></g>

<g id="n-c4-oxo"><circle class="n" cx="1906" cy="781" r="11"/><text class="l" x="1928" y="776">3-Oxo-<tspan x="1928" y="805">dodecanoyl-</tspan><tspan x="1928" y="834">[acp]</tspan></text></g>
<g id="n-c4-hyd"><circle class="n" cx="1906" cy="1025" r="11"/><text class="l" x="1923" y="1012">(R)-3-Hydroxy-<tspan x="1923" y="1041">dodecanoyl-</tspan><tspan x="1923" y="1071">[acp]</tspan></text></g>
<g id="n-c4-en"><circle class="n" cx="1906" cy="1266" r="11"/><text class="l" x="1924" y="1259">trans-Dodec-<tspan x="1924" y="1289">2-enoyl-[acp]</tspan></text></g>
<g id="n-c4-prod"><circle class="n" cx="1906" cy="1561" r="11"/><text class="l" x="1923" y="1597">Dodecanoyl-[acp]</text></g>

<g id="n-c5-oxo"><circle class="n" cx="2277" cy="781" r="11"/><text class="l" x="2298" y="776">3-Oxo-<tspan x="2298" y="805">tetradecanoyl-</tspan><tspan x="2298" y="834">[acp]</tspan></text></g>
<g id="n-c5-hyd"><circle class="n" cx="2277" cy="1025" r="11"/><text class="l" x="2298" y="1012">(R)-3-Hydroxy-<tspan x="2298" y="1041">tetradecanoyl-</tspan><tspan x="2298" y="1071">[acp]</tspan></text></g>
<g id="n-c5-en"><circle class="n" cx="2277" cy="1266" r="11"/><text class="l" x="2297" y="1259">trans-Tetradec-<tspan x="2297" y="1289">2-enoyl-[acp]</tspan></text></g>
<g id="n-c5-prod"><circle class="n" cx="2277" cy="1561" r="11"/><text class="l" x="2298" y="1601">Tetradecanoyl-<tspan x="2298" y="1630">[acp]</tspan></text></g>

<g id="n-c6-oxo"><circle class="n" cx="2651" cy="781" r="11"/><text class="l" x="2675" y="796">3-Oxohexadecanoyl-[acp]</text></g>
<g id="n-c6-hyd"><circle class="n" cx="2651" cy="1025" r="11"/><text class="l" x="2675" y="1030">(R)-3-Hydroxy-<tspan x="2675" y="1058">hexadecanoyl-[acp]</tspan></text></g>
<g id="n-c6-en"><circle class="n" cx="2651" cy="1266" r="11"/><text class="l" x="2675" y="1259">trans-Hexadec-<tspan x="2675" y="1289">2-enoyl-[acp]</tspan></text></g>
<g id="n-c6-prod"><circle class="n" cx="2651" cy="1561" r="11"/><text class="l" x="2661" y="1603">Hexa-<tspan x="2661" y="1632">decanoyl-[acp]</tspan></text></g>

<g id="n-c7-oxo"><circle class="n" cx="3249" cy="781" r="11"/><text class="l" x="3277" y="798">3-Oxooctadecanoyl-[acp]</text></g>
<g id="n-c7-hyd"><circle class="n" cx="3249" cy="1026" r="11"/><text class="l" x="3277" y="1024">(R)-3-Hydroxy-<tspan x="3277" y="1053">octadecanoyl-[acp]</tspan></text></g>
<g id="n-c7-en"><circle class="n" cx="3249" cy="1266" r="11"/><text class="l" x="3274" y="1276">trans-Octadec-2-enoyl-[acp]</text></g>
<g id="n-c7-prod"><circle class="n" cx="3249" cy="1561" r="11"/><text class="l" x="3255" y="1614">Octadecanoyl-<tspan x="3255" y="1645">[acp]</tspan></text></g>

<g id="n-hexadecenoyl"><circle class="n" cx="2986" cy="1561" r="11"/><text class="l" x="2924" y="1512">Hexa-<tspan x="2924" y="1541">decenoyl-[acp]</tspan></text></g>
<g id="n-octadecenoyl"><circle class="n" cx="3547" cy="1561" r="11"/><text class="l" x="3467" y="1512">Octa-<tspan x="3467" y="1541">decenoyl-[acp]</tspan></text></g>

<g id="n-octanoic"><circle class="n" cx="1157" cy="1800" r="11"/><text class="lm" x="1155" y="1844">Octanoic acid</text></g>
<g id="n-decanoic"><circle class="n" cx="1532" cy="1800" r="11"/><text class="lm" x="1537" y="1846">Decanoic acid</text></g>
<g id="n-dodecanoic"><circle class="n" cx="1906" cy="1800" r="11"/><text class="lm" x="1910" y="1846">Dodecanoic acid</text></g>
<g id="n-tetradecanoic"><circle class="n" cx="2277" cy="1800" r="11"/><text class="lm" x="2245" y="1846">Tetradecanoic acid</text></g>
<g id="n-hexadecanoic"><circle class="n" cx="2651" cy="1800" r="11"/><text class="l" x="2671" y="1822">Hexadecanoic<tspan x="2671" y="1851">acid</tspan></text></g>
<g id="n-hexadecenoic"><circle class="n" cx="2986" cy="1800" r="11"/><text class="lm" x="2986" y="1844">Hexadecenoic acid</text></g>
<g id="n-octadecanoic"><circle class="n" cx="3249" cy="1800" r="11"/><text class="lm" x="3252" y="1845">Octadecanoic acid</text></g>
<g id="n-octadecenoic"><circle class="n" cx="3547" cy="1800" r="11"/><text class="lm" x="3550" y="1844">Octadecenoic acid</text></g>
<g id="n-cisdec"><circle class="n" cx="1398" cy="1740" r="11"/><text class="l" x="1223" y="1757">cis-Dec-<tspan x="1223" y="1786">3-enoyl-[acp]</tspan></text></g>
<g id="n-n7"><circle class="n" cx="1398" cy="1946" r="11"/><text class="lm" x="1407" y="1995">n-7 Unsaturated acyl-[acp]</text></g>
<g id="n-hexadecanoylcoa"><circle class="n" cx="2651" cy="2038" r="11"/><text class="lm" x="2509" y="2086">Hexadecanoyl-CoA</text></g>
</svg>
